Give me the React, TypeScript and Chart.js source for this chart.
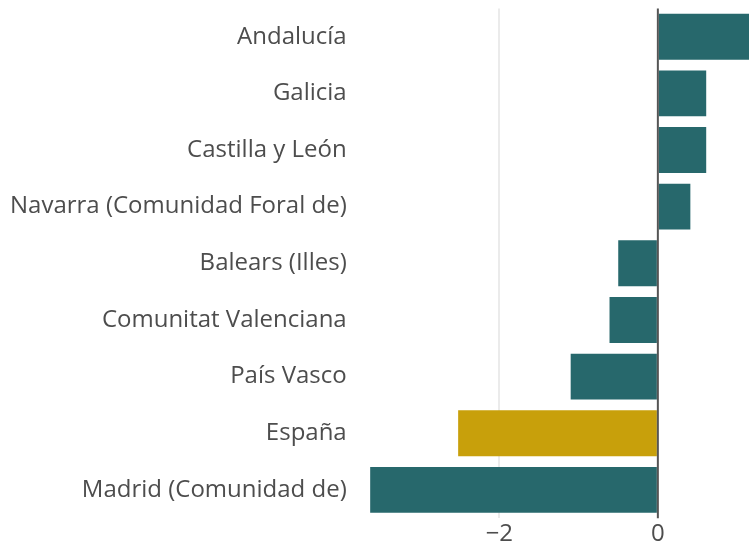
import React, { useEffect, useRef } from "react";
import { Chart, registerables } from "chart.js";

Chart.register(...registerables);

const categories = [
  "Andalucía",
  "Galicia",
  "Castilla y León",
  "Navarra (Comunidad Foral de)",
  "Balears (Illes)",
  "Comunitat Valenciana",
  "País Vasco",
  "España",
  "Madrid (Comunidad de)",
];
const values = [1.15, 0.61, 0.61, 0.41, -0.5, -0.61, -1.1, -2.52, -3.63];
const highlight = "España";
const xTicks = [-2, 0];

const TEAL = "#27686c";
const GOLD = "#c8a00b";

export default function App() {
  const ref = useRef<HTMLCanvasElement | null>(null);
  useEffect(() => {
    if (!ref.current) return;
    const zeroLine = {
      id: "zeroLine",
      afterDatasetsDraw(chart: any) {
        const { ctx, chartArea, scales } = chart;
        const x = scales.x.getPixelForValue(0);
        ctx.save();
        ctx.strokeStyle = "#555555";
        ctx.lineWidth = 2;
        ctx.beginPath();
        ctx.moveTo(x, chartArea.top);
        ctx.lineTo(x, chartArea.bottom);
        ctx.stroke();
        ctx.restore();
      },
    };
    const chart = new Chart(ref.current, {
      type: "bar",
      data: {
        labels: categories,
        datasets: [
          {
            data: values,
            backgroundColor: categories.map((c) => (c === highlight ? GOLD : TEAL)),
            borderWidth: 0,
            barPercentage: 0.81,
            categoryPercentage: 1,
          },
        ],
      },
      options: {
        indexAxis: "y",
        animation: false,
        responsive: true,
        maintainAspectRatio: false,
        layout: { padding: { top: 0, right: 0, bottom: 0, left: 0 } },
        plugins: { legend: { display: false }, tooltip: { enabled: false } },
        scales: {
          x: {
            min: -3.8,
            max: 1.15,
            afterBuildTicks: (axis: any) => {
              axis.ticks = xTicks.map((v) => ({ value: v }));
            },
            grid: {
              color: (ctx: any) => (ctx.tick && ctx.tick.value === 0 ? "rgba(0,0,0,0)" : "#ebebeb"),
              lineWidth: 2,
              drawTicks: false,
            },
            border: { display: false },
            ticks: {
              padding: 2,
              color: "#4d4d4d",
              font: { family: "'Open Sans'", size: 24 },
              callback: (v: any) => (Number(v) < 0 ? "\u2212" + Math.abs(Number(v)) : String(v)),
            },
          },
          y: {
            grid: { display: false, drawTicks: false },
            border: { display: false },
            ticks: {
              padding: 10,
              color: "#4d4d4d",
              font: { family: "'Open Sans'", size: 24 },
            },
          },
        },
      },
      plugins: [zeroLine],
    });
    return () => chart.destroy();
  }, []);
  return (
    <div style={{ position: "fixed", left: 0, top: -16, width: 749, height: 567 }}>
      <canvas ref={ref} />
    </div>
  );
}
